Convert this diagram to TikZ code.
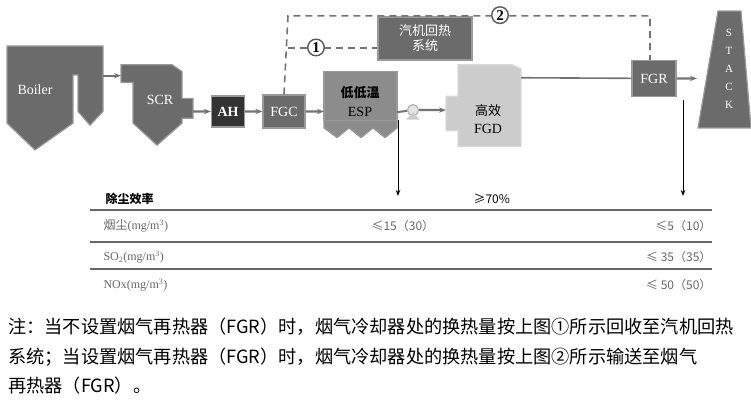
\documentclass[tikz,border=0pt]{standalone}
\usepackage{fontspec}
\setmainfont{Liberation Serif}
\newfontfamily\cjk{Noto Sans CJK SC}
\usetikzlibrary{arrows.meta}
\begin{document}
\begin{tikzpicture}
        [
            x = 1pt, y = -1pt,
            unit/.style = {fill = black!58, draw = black!40, line width = 1.2pt},
            label/.style = {text = white, font = \fontsize{14}{16}\selectfont},
            flow/.style = {-{Stealth[length=7pt]}, draw = black!55, line width = 2.2pt},
            loop/.style = {dashed, draw = black!55, line width = 1.6pt, dash pattern = on 7pt off 5pt},
            num/.style = {circle, draw = black!65, line width = 1.4pt, fill = white, inner sep = 1.5pt, font = \fontsize{15}{15}\selectfont\bfseries},
            rule/.style = {draw = black!60, line width = 2pt},
            cell/.style = {font = \fontsize{12}{14}\selectfont\cjk, text = gray!80!black}
        ]
        \useasboundingbox (0,0) rectangle (751,407);

        \begin{scope}[yscale = 0.688]
        % boiler
        \fill[unit] (7,67) -- (103,67) -- (103,162) -- (90,182) -- (78,162) -- (78,109) -- (73,109) -- (73,179) -- (35,218) -- (7,179) -- cycle;
        \node[label] (boiler) at (35,130) {Boiler};
        \coordinate (boilerout) at (103,110);
        % scr
        \fill[unit] (121,94) -- (172,94) -- (182,104) -- (182,143) -- (193,143) -- (193,172) -- (182,172) -- (182,179) -- (157,211) -- (133,179) -- (133,120) -- (121,120) -- cycle;
        \node[label] (scr) at (160,145) {SCR};
        \coordinate (scrin) at (121,110);
        \coordinate (scrout) at (193,162);
        % boxes
        \node[unit, label, minimum width = 33pt, minimum height = 31pt, fill = black!80] (ah) at (228,162) {\bfseries AH};
        \node[unit, label, minimum width = 42pt, minimum height = 33pt] (fgc) at (284,162) {FGC};
        % esp
        \fill[unit, fill = black!45] (324,104) rectangle (397,175);
        \fill[unit, fill = black!45] (324,175) -- (324,186) -- (337,200) -- (349,186) -- (361,200) -- (373,186) -- (385,200) -- (397,186) -- (397,175) -- cycle;
        \node[label, text = black, font = \fontsize{13}{15}\selectfont\cjk\bfseries] (esp) at (360,134) {低低温};
        \node[label, text = black] at (360,162) {ESP};
        \coordinate (espout) at (397,163);
        \node[circle, draw = gray!60, fill = gray!20, line width = 1.2pt, minimum size = 11pt, inner sep = 0pt] (pump) at (413,160) {};
        \fill[gray!40] (406,174) -- (420,174) -- (413,163) -- cycle;
        % fgd
        \fill[unit, fill = gray!40, draw = gray!30] (458,94) -- (512,94) -- (521,100) -- (521,213) -- (458,213) -- (458,190) -- (446,190) -- (446,140) -- (458,140) -- cycle;
        \node[label, text = black, font = \fontsize{13}{15}\selectfont\cjk] (fgd) at (488,160) {高效};
        \node[label, text = black] at (488,188) {FGD};
        \coordinate (fgdout) at (521,113);
        % fgr and stack
        \node[unit, label, minimum width = 44pt, minimum height = 36pt] (fgr) at (654,114) {FGR};
        \fill[unit] (718,16) -- (741,16) -- (751,186) -- (698,186) -- cycle;
        \foreach \ch [count = \i] in {S,T,A,C,K}
            \node[label, font = \fontsize{11}{13}\selectfont] (stack\i) at (729,22+26*\i) {\ch};
        \coordinate (stackin) at (697,114);
        % heat recovery system
        \node[unit, label, minimum width = 94pt, minimum height = 43pt, font = \fontsize{13}{15}\selectfont\cjk, align = center] (hrs) at (425,56) {汽机回热\\系统};

        % flow
        \draw[flow] (boilerout) -- (scrin);
        \draw[flow] (scrout) -- (ah);
        \draw[flow] (ah) -- (fgc);
        \draw[flow] (fgc) -- (324,162);
        \draw[draw = black!55, line width = 2pt] (espout) -- (pump);
        \draw[flow] (pump) -- (446,160);
        \draw[draw = black!55, line width = 1.6pt] (fgdout) -- (fgr);
        \draw[flow] (fgr) -- (stackin);

        % heat loops
        \draw[loop] (fgc.north) -- (288,23) -- (650,23) -- (fgr.north -| 650,0);
        \draw[loop] (288,70) -- (hrs.west |- 0,70);
        \node[num] (one) at (316,69) {1};
        \node[num] (two) at (500,22) {2};
        \coordinate (espdown) at (398,175);
        \coordinate (fgrdown) at (683,146);
        \end{scope}

        % table
        \draw[-{Stealth[length=6pt]}, line width = 1pt] (espdown) -- (398,196);
        \draw[-{Stealth[length=6pt]}, line width = 1pt] (fgrdown) -- (683,196);
        \node[cell, text = black, font = \fontsize{12}{14}\selectfont\cjk\bfseries, anchor = west] (h1) at (102,199) {除尘效率};
        \node[cell, text = black, anchor = west] (h2) at (470,199) {≥70\%};
        \foreach \y in {210,242,269}
            \draw[rule] (90,\y) -- (712,\y);
        \node[cell, anchor = west] (r1) at (100,226) {烟尘\textrm{(mg/m\textsuperscript{3})}};
        \node[cell, anchor = west] (r2) at (100,257) {\textrm{SO\textsubscript{2}(mg/m\textsuperscript{3})}};
        \node[cell, anchor = west] (r3) at (100,285) {\textrm{NOx(mg/m\textsuperscript{3})}};
        \node[cell, anchor = west] (v1) at (368,226) {≤15（30）};
        \node[cell, anchor = east] (v2) at (715,226) {≤5（10）};
        \node[cell, anchor = east] (v3) at (715,257) {≤ 35（35）};
        \node[cell, anchor = east] (v4) at (715,285) {≤ 50（50）};

        % note
        \node[anchor = west, font = \fontsize{18.2}{20}\selectfont\cjk, inner sep = 0pt] (n1) at (8,327) {注：当不设置烟气再热器（FGR）时，烟气冷却器处的换热量按上图①所示回收至汽机回热};
        \node[anchor = west, font = \fontsize{18.2}{20}\selectfont\cjk, inner sep = 0pt] (n2) at (8,357) {系统；当设置烟气再热器（FGR）时，烟气冷却器处的换热量按上图②所示输送至烟气};
        \node[anchor = west, font = \fontsize{18.2}{20}\selectfont\cjk, inner sep = 0pt] (n3) at (8,386) {再热器（FGR）。};
    \end{tikzpicture}
\end{document}
